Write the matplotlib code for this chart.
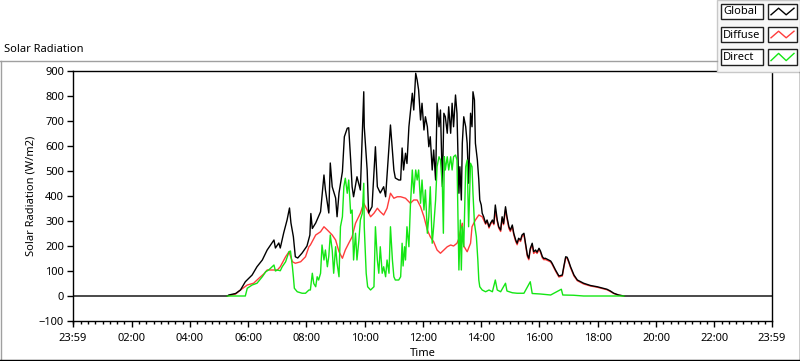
import matplotlib
matplotlib.use("Agg")
import matplotlib.pyplot as plt
from matplotlib.patches import Rectangle
from matplotlib.lines import Line2D
import numpy as np

# ---------------- data (time in minutes after midnight, W/m2) ----------------
global_min = [0, 317, 320, 334, 344, 354, 368, 378, 389, 399, 406, 413, 416, 423, 426, 433,
              440, 445, 448, 453, 457, 462, 471, 481, 487, 489, 492, 499, 509, 516, 519, 523,
              526, 529, 533, 540, 543, 547, 554, 558, 564, 567, 571, 574, 577, 584, 591, 598,
              599, 605, 608, 615, 622, 626, 632, 639, 643, 653, 657, 660, 663, 670, 674, 677,
              680, 684, 687, 691, 698, 701, 705, 708, 711, 715, 718, 722, 725, 729, 732, 735,
              739, 742, 746, 749, 753, 756, 760, 763, 766, 770, 773, 777, 780, 783, 787, 790,
              794, 796, 799, 801, 804, 808, 811, 814, 818, 821, 823, 826, 828, 832, 835, 837,
              840, 842, 845, 849, 852, 856, 859, 863, 866, 869, 873, 876, 880, 883, 886, 890,
              893, 897, 900, 904, 907, 911, 914, 917, 921, 924, 928, 935, 938, 941, 945, 948,
              952, 955, 959, 962, 966, 969, 972, 979, 983, 986, 993, 1000, 1007, 1010, 1014,
              1017, 1020, 1024, 1031, 1038, 1051, 1065, 1079, 1099, 1106, 1113, 1123, 1134, 1439]
global_val = [0, 0, 4, 10, 24, 57, 84, 117, 144, 184, 204, 224, 192, 212, 192, 252,
              304, 352, 292, 237, 157, 152, 172, 200, 244, 330, 270, 292, 337, 484, 424, 372,
              332, 532, 437, 392, 317, 412, 497, 637, 671, 673, 544, 437, 397, 477, 424, 817,
              677, 504, 332, 357, 597, 437, 412, 437, 397, 684, 584, 504, 472, 464, 464, 592,
              504, 571, 530, 677, 811, 744, 891, 864, 824, 704, 771, 664, 717, 677, 597, 637,
              504, 584, 464, 771, 677, 744, 437, 731, 717, 651, 757, 651, 771, 677, 804, 731,
              411, 517, 384, 611, 717, 677, 611, 451, 731, 677, 817, 784, 611, 544, 464, 384,
              364, 331, 317, 291, 304, 277, 291, 304, 290, 364, 304, 277, 264, 317, 290, 357,
              317, 277, 264, 284, 251, 224, 211, 231, 224, 244, 251, 164, 151, 190, 211, 177,
              184, 175, 191, 180, 157, 150, 151, 144, 140, 131, 104, 80, 84, 117, 157,
              155, 140, 117, 84, 64, 51, 42, 37, 27, 20, 11, 4, 0, 0]

diffuse_min = [317, 334, 344, 358, 371, 382, 392, 399, 409, 420, 426, 437, 444, 447, 451, 457,
               468, 478, 485, 488, 499, 509, 516, 523, 533, 540, 547, 554, 560, 567, 574, 581,
               591, 598, 605, 612, 619, 626, 632, 639, 646, 653, 660, 667, 674, 684, 694, 701,
               708, 715, 722, 729, 735, 742, 749, 756, 763, 770, 777, 783, 790, 794, 796, 801,
               804, 811, 818, 821, 828, 835, 842, 849, 852, 856, 859, 863, 866, 869, 873, 876,
               880, 883, 886, 890, 893, 897, 900, 904, 907, 911, 914, 917, 921, 924, 928, 935,
               938, 941, 945, 948, 952, 955, 959, 962, 966, 969, 972, 979, 983, 986, 993, 1000,
               1007, 1010, 1014, 1017, 1020, 1024, 1031, 1038, 1051, 1065, 1079, 1099, 1106,
               1113, 1123, 1134]
diffuse_val = [0, 8, 24, 44, 51, 71, 88, 104, 104, 104, 117, 157, 177, 160, 137, 131,
               137, 157, 197, 204, 244, 257, 277, 264, 244, 224, 177, 151, 184, 211, 237, 291,
               331, 371, 344, 317, 331, 351, 337, 324, 351, 411, 391, 397, 397, 391, 371, 384,
               384, 357, 317, 264, 237, 217, 184, 171, 184, 197, 204, 200, 211, 230, 251, 291,
               200, 177, 211, 277, 304, 324, 317, 287, 300, 272, 286, 298, 285, 340, 298, 272,
               258, 310, 285, 345, 310, 270, 258, 278, 245, 218, 205, 225, 218, 238, 245, 158,
               145, 184, 205, 170, 178, 170, 186, 175, 152, 145, 146, 140, 136, 127, 100, 76,
               80, 112, 152, 151, 136, 113, 80, 61, 48, 40, 35, 25, 18,
               10, 3, 0]

direct_min = [317, 354, 358, 368, 378, 389, 396, 402, 406, 413, 416, 420, 426, 430, 437, 444,
              447, 451, 453, 455, 461, 471, 478, 485, 488, 492, 495, 499, 502, 505, 509, 512,
              516, 519, 523, 526, 529, 533, 536, 540, 543, 547, 550, 554, 557, 560, 564, 567,
              571, 574, 577, 581, 584, 588, 591, 595, 598, 599, 603, 606, 612, 619, 622, 626,
              629, 632, 636, 639, 643, 646, 650, 653, 657, 660, 663, 670, 674, 677, 679, 682,
              684, 687, 691, 694, 698, 701, 705, 708, 711, 715, 718, 722, 725, 729, 732, 735,
              739, 742, 746, 749, 753, 756, 760, 762, 764, 766, 770, 773, 777, 780, 783, 787,
              790, 794, 797, 799, 801, 804, 808, 811, 814, 818, 821, 823, 826, 830, 833, 835,
              837, 842, 849, 856, 863, 869, 873, 880, 890, 893, 904, 914, 928, 941, 945, 962,
              983, 1005, 1008, 1030, 1051, 1134]
direct_val = [0, 0, 31, 44, 51, 77, 97, 104, 111, 124, 100, 104, 101, 117, 137, 177,
              180, 117, 77, 31, 17, 11, 11, 24, 24, 91, 50, 37, 77, 64, 91, 204,
              144, 184, 117, 160, 244, 184, 91, 197, 131, 77, 277, 317, 437, 471, 411, 464,
              331, 344, 144, 251, 144, 224, 304, 331, 451, 277, 91, 37, 24, 37, 277, 144,
              91, 197, 91, 117, 77, 144, 91, 277, 144, 77, 64, 64, 77, 211, 120, 197,
              144, 277, 197, 357, 504, 411, 504, 464, 504, 371, 464, 344, 424, 251, 317, 437,
              211, 277, 384, 517, 557, 544, 437, 251, 557, 504, 557, 504, 557, 504, 557, 564,
              544, 104, 304, 104, 277, 197, 517, 544, 277, 531, 517, 411, 291, 237, 144, 64,
              37, 24, 17, 24, 17, 64, 24, 17, 51, 20, 13, 11, 11, 57, 10, 8,
              4, 27, 4, 3, 0, 0]

series_names = ["Global", "Diffuse", "Direct"]
series_colors = ["#000000", "#ff3c3c", "#14e614"]

y_ticks = list(range(-100, 1000, 100))
x_tick_hours = [-1 / 60, 2, 4, 6, 8, 10, 12, 14, 16, 18, 20, 22, 24 - 1 / 60]
x_tick_labels = ["23:59", "02:00", "04:00", "06:00", "08:00", "10:00", "12:00",
                 "14:00", "16:00", "18:00", "20:00", "22:00", "23:59"]

# ---------------- figure ----------------
plt.rcParams['font.family'] = ['Noto Sans', 'DejaVu Sans']
W, H = 800, 361
fig = plt.figure(figsize=(W / 100, H / 100), dpi=100)
fig.patch.set_facecolor("white")

def fx(px):
    return px / W

def fy(py):
    return 1 - py / H

ax = fig.add_axes([fx(73), fy(321), fx(772) - fx(73), fy(71) - fy(321)])
ax.set_facecolor("white")

def hours(mins):
    return np.asarray(mins, dtype=float) / 60.0

ax.plot(hours(diffuse_min), diffuse_val, color=series_colors[1], lw=1.0, zorder=2)
ax.plot(hours(global_min), global_val, color=series_colors[0], lw=1.0, zorder=3)
ax.plot(hours(direct_min), direct_val, color=series_colors[2], lw=1.0, zorder=4)

ax.set_xlim(-1 / 60, 24 - 1 / 60)
ax.set_ylim(-100, 900)
ax.set_yticks(y_ticks)
ax.set_xticks(x_tick_hours)
ax.set_xticklabels(x_tick_labels)
ax.set_xticks(np.arange(0, 24, 0.25), minor=True)
ax.tick_params(axis='both', which='major', length=4.5, width=1.0, color='black',
               labelsize=8.0, pad=2)
ax.tick_params(axis='x', which='minor', length=2.5, width=1.0, color='black')
ax.tick_params(axis='x', which='major', pad=4)
for sp in ax.spines.values():
    sp.set_color('black')
    sp.set_linewidth(1.0)

ax.set_ylabel("Solar Radiation (W/m2)", fontsize=8.0, labelpad=2)
ax.set_xlabel("Time", fontsize=8.0, labelpad=3)

# outer panel frame
fig.add_artist(Line2D([fx(0), fx(717)], [fy(61), fy(61)], color="#a0a0a0", lw=1.0))
fig.add_artist(Line2D([fx(0.5), fx(0.5)], [fy(61), fy(360)], color="#a0a0a0", lw=1.0))
fig.add_artist(Line2D([fx(0), fx(800)], [fy(360), fy(360)], color="#000000", lw=1.0))
fig.add_artist(Line2D([fx(799.5), fx(799.5)], [fy(72), fy(360)], color="#000000", lw=1.0))

fig.text(fx(4), fy(50), "Solar Radiation", fontsize=8.0, ha='left', va='center')

# legend panel
fig.add_artist(Rectangle((fx(717), fy(72)), fx(83), fy(0) - fy(72),
                         facecolor="#f6f6f6", edgecolor="#c8c8c8", lw=1.0))
rows = [(4, 19), (27, 42), (49, 65)]
zig_x = np.array([0.0, 0.33, 0.66, 1.0])
zig_y = np.array([0.2, 0.8, 0.2, 0.8])
for (top, bot), name, col in zip(rows, series_names, series_colors):
    fig.add_artist(Rectangle((fx(721), fy(bot)), fx(42), fy(top) - fy(bot),
                             facecolor="white", edgecolor="#202020", lw=1.0))
    fig.text(fx(723), fy((top + bot) / 2 + 0.5), name, fontsize=8.0, ha='left', va='center')
    fig.add_artist(Rectangle((fx(768), fy(bot)), fx(29), fy(top) - fy(bot),
                             facecolor="white", edgecolor="#202020", lw=1.0))
    xs = fx(771) + zig_x * (fx(794) - fx(771))
    ys = fy(bot - 2) + zig_y * (fy(top + 2) - fy(bot - 2))
    fig.add_artist(Line2D(xs, ys, color=col, lw=1.0))

fig.savefig("out.png", dpi=100, facecolor="white")
